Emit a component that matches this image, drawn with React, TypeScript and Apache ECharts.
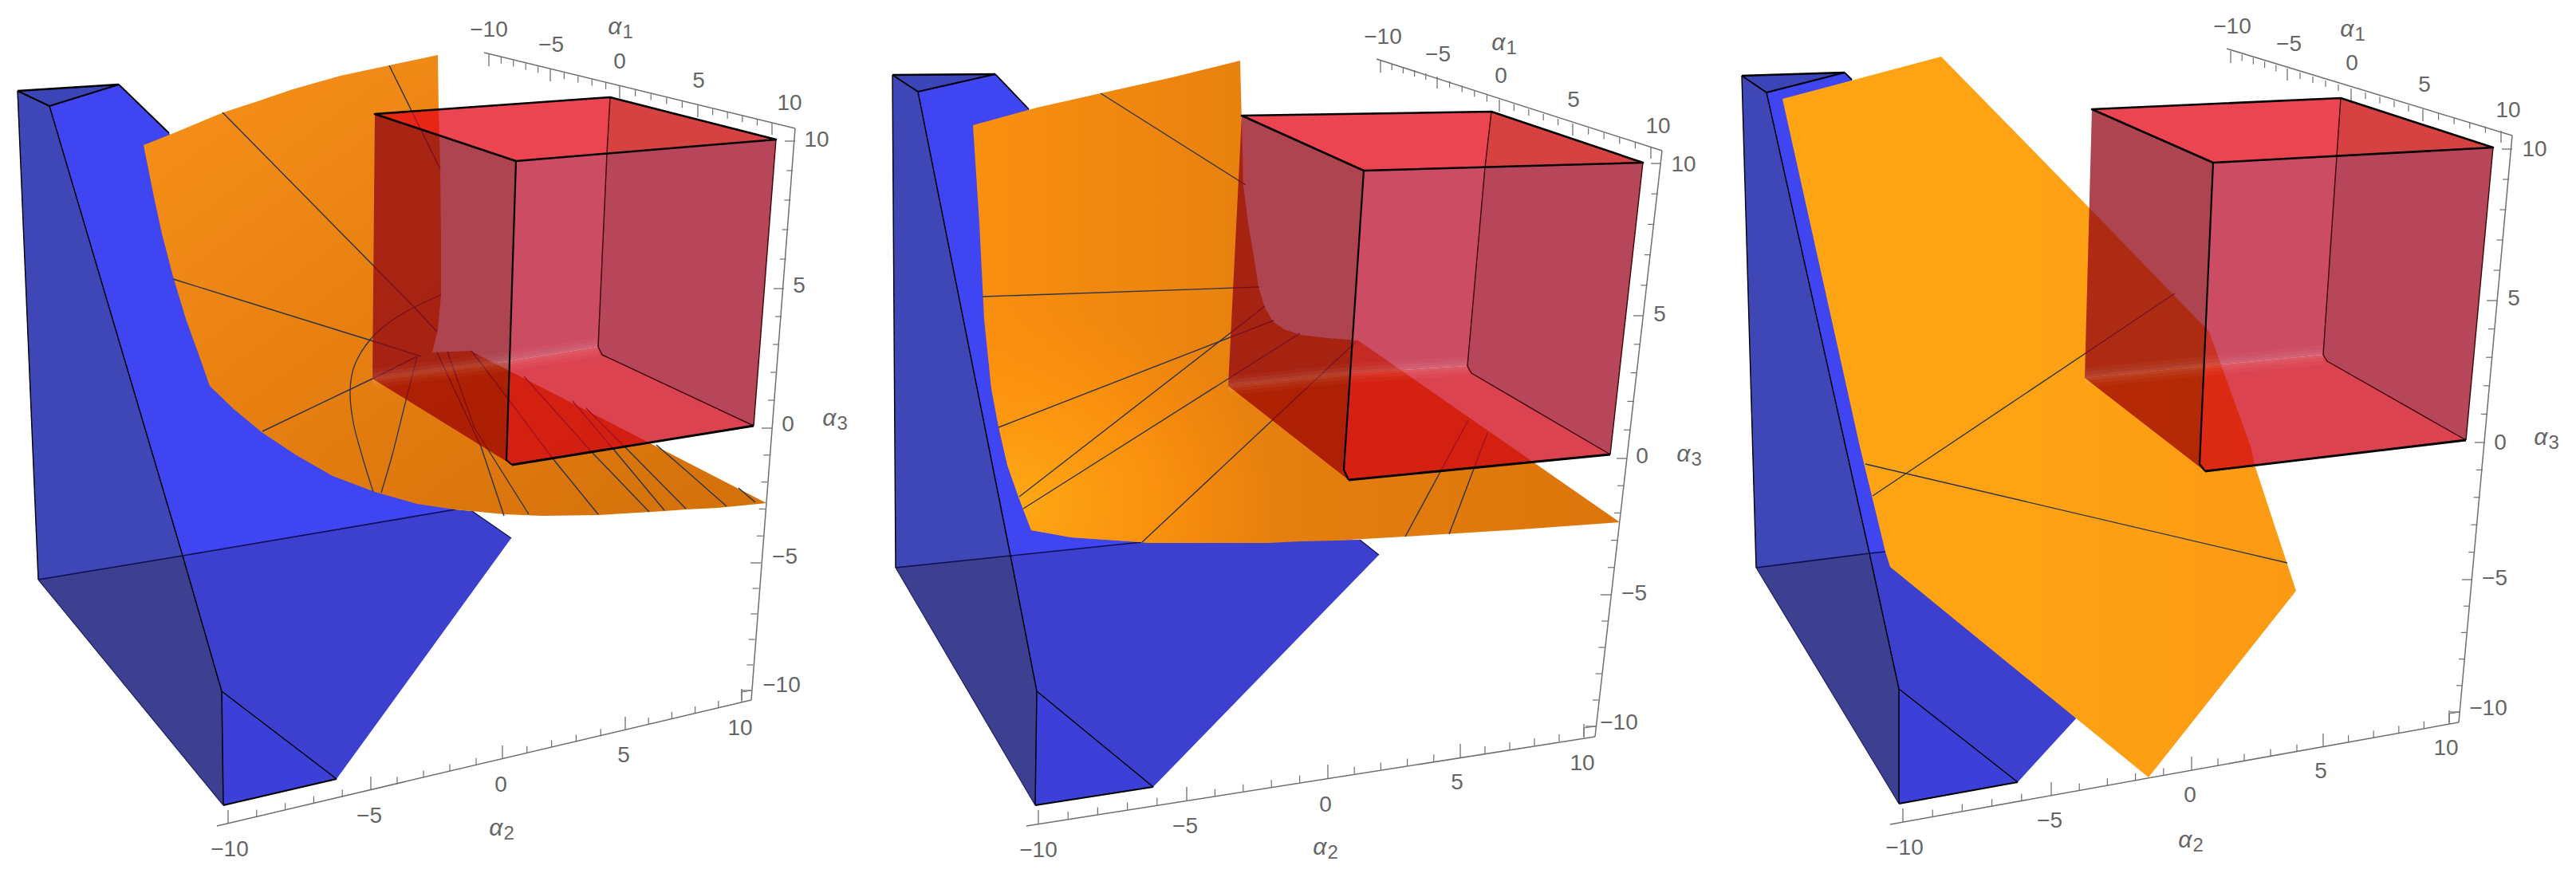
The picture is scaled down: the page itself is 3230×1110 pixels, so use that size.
import React, { useEffect, useRef } from "react";
import * as echarts from "echarts";

type Pt = number[];

// ---------- shared labels ----------
const tickLabels = ["\u221210", "\u22125", "0", "5", "10"];
const axisNames = ["1", "2", "3"];

// ---------- panel 1 ----------
// corners: A, B, C, leftBottom, bottom, F, D, E
const p1Blue: Pt[] = [[22,114],[149,106],[62,133],[48,727],[280,1010],[422,977],[229,697],[278,867]];
const p1BlueBright: Pt[] = [[212,167],[400,450],[571,639]];
const p1BlueFront: Pt[] = [[571,639],[592,641],[641,675]];
const p1Orange: Pt[] = [[180,182],[220,166],[280,141],[320,128],[367,112],[427,95],[488,82],[549,69],[550,137],[552,210],[553,300],[553,370],[549,414],[542,442],[590,440],[961,631],[900,637],[860,639],[833,641],[750,646],[680,647],[632,645],[570,639],[523,632],[470,617],[417,597],[370,570],[328,542],[293,513],[263,484],[250,447],[233,400],[217,347],[203,293],[193,247]];
const p1Lines: Pt[][] = [
  [[488,82],[552,212]],
  [[279,141],[468,333],[520,386],[548,416]],
  [[217,350],[465,427],[528,447]],
  [[329,541],[467,475],[523,447]],
  [[548,442],[603,560],[632,647]],
  [[561,441],[595,537],[663,645]],
  [[591,440],[637,500],[693,575],[750,645]],
  [[657,472],[742,567],[814,642]],
  [[718,503],[768,562],[833,640]],
  [[735,512],[783,560],[860,638]],
  [[823,558],[860,590],[911,635]],
  [[926,612],[947,630]],
];
const p1Curves: Pt[][] = [
  [[553,370],[520,385],[490,403],[465,425],[445,457],[439,490],[443,530],[455,575],[468,617]],
  [[523,447],[507,510],[492,570],[478,618]],
];
// corners: TL, TB, TR, TF, BL, BK, RB, FB, X, SF, FC, K
const p1Box: Pt[] = [[470,143],[765,122],[973,175],[647,202],[467,475],[755,445],[945,534],[642,583],[761,193],[638,453],[635,577],[750,435]];
const p1AxisA1: Pt[] = [[607,66],[997,161]];
const p1TicksA1: Pt[] = [[613,68],[690,87],[777,108],[875,132],[968,154]];
const p1LabelsA1: Pt[] = [[613,36],[691,55],[777,76],[876,100],[990,128]];
const p1AxisA2: Pt[] = [[272,1036],[942,878]];
const p1TicksA2: Pt[] = [[286,1033],[465,991],[630,952],[784,916],[930,881]];
const p1LabelsA2: Pt[] = [[288,1064],[463,1022],[628,983],[782,946],[928,912]];
const p1AxisA3: Pt[] = [[997,161],[942,878]];
const p1TicksA3: Pt[] = [[997,177],[983,362],[968,537],[954,706],[942,866]];
const p1LabelsA3: Pt[] = [[1024,174],[1002,357],[988,531],[984,697],[980,858]];
const p1Names: Pt[] = [[778,32],[629,1037],[1047,523]];

// ---------- panel 2 ----------
const p2Blue: Pt[] = [[1119,94],[1248,93],[1151,115],[1123,712],[1298,1010],[1446,987],[1267,697],[1300,867]];
const p2BlueBright: Pt[] = [[1290,137],[1340,400],[1431,680]];
const p2BlueFront: Pt[] = [[1431,680],[1705,677],[1729,696]];
const p2Orange: Pt[] = [[1220,157],[1300,135],[1380,117],[1470,97],[1555,76],[1559,232],[1565,280],[1572,321],[1578,360],[1586,386],[1596,403],[1610,413],[1631,420],[1665,424],[1703,427],[2031,655],[1907,664],[1762,673],[1675,678],[1630,679],[1590,681],[1440,681],[1430,680],[1343,674],[1293,665],[1277,623],[1263,583],[1252,535],[1243,487],[1234,400],[1228,280]];
const p2Lines: Pt[][] = [
  [[1380,117],[1562,232]],
  [[1232,372],[1579,360]],
  [[1252,536],[1597,402]],
  [[1278,623],[1586,384]],
  [[1283,638],[1630,418]],
  [[1432,680],[1700,429]],
  [[1841,527],[1762,673]],
  [[1865,543],[1817,670]],
];
const p2Curves: Pt[][] = [];
const p2Box: Pt[] = [[1557,145],[1870,140],[2060,204],[1710,214],[1540,484],[1845,468],[2019,570],[1691,602],[1862,210],[1693,468],[1685,589],[1840,459]];
const p2AxisA1: Pt[] = [[1726,74],[2084,189]];
const p2TicksA1: Pt[] = [[1731,76],[1802,96],[1880,125],[1972,155],[2070,184]];
const p2LabelsA1: Pt[] = [[1734,45],[1803,67],[1882,94],[1973,124],[2079,157]];
const p2AxisA2: Pt[] = [[1287,1036],[2000,924]];
const p2TicksA2: Pt[] = [[1302,1033],[1488,1004],[1665,976],[1831,950],[1986,925]];
const p2LabelsA2: Pt[] = [[1302,1065],[1486,1035],[1662,1008],[1827,980],[1984,956]];
const p2AxisA3: Pt[] = [[2084,189],[2000,924]];
const p2TicksA3: Pt[] = [[2083,205],[2061,396],[2040,575],[2020,746],[2001,911]];
const p2LabelsA3: Pt[] = [[2111,205],[2081,393],[2059,571],[2049,743],[2030,905]];
const p2Names: Pt[] = [[1886,52],[1662,1061],[2118,568]];

// ---------- panel 3 ----------
const p3Blue: Pt[] = [[2184,95],[2313,91],[2215,116],[2202,712],[2381,1008],[2530,981],[2344,694],[2381,864]];
const p3BlueBright: Pt[] = [[2322,100],[2400,300],[2364,692]];
const p3BlueFront: Pt[] = [[2364,692],[2600,800],[2650,850]];
const p3Orange: Pt[] = [[2235,124],[2434,71],[2618,259],[2770,416],[2822,560],[2828,586],[2879,741],[2694,975],[2370,711],[2364,692],[2332,560]];
const p3Lines: Pt[][] = [
  [[2727,368],[2348,622]],
  [[2339,582],[2868,706]],
];
const p3Curves: Pt[][] = [];
const p3Box: Pt[] = [[2623,137],[2935,123],[3126,185],[2775,204],[2614,474],[2918,453],[3092,552],[2765,591],[2930,196],[2765,459],[2758,582],[2913,445]];
const p3AxisA1: Pt[] = [[2792,61],[3150,170]];
const p3TicksA1: Pt[] = [[2797,64],[2868,86],[2948,111],[3038,137],[3136,164]];
const p3LabelsA1: Pt[] = [[2799,32],[2870,54],[2949,78],[3040,105],[3145,137]];
const p3AxisA2: Pt[] = [[2370,1034],[3083,906]];
const p3TicksA2: Pt[] = [[2386,1031],[2572,998],[2748,966],[2913,937],[3071,908]];
const p3LabelsA2: Pt[] = [[2388,1062],[2570,1028],[2746,996],[2910,966],[3067,937]];
const p3AxisA3: Pt[] = [[3150,170],[3083,906]];
const p3TicksA3: Pt[] = [[3150,187],[3131,377],[3116,555],[3100,727],[3085,893]];
const p3LabelsA3: Pt[] = [[3178,186],[3152,373],[3135,554],[3128,724],[3120,887]];
const p3Names: Pt[] = [[2950,35],[2747,1052],[3193,547]];

// ---------- styles ----------
const BLACK = "#000000";
const GREY = "#6f6f6f";
const TEXT = "#666666";
const LINE = "#2c3447";
const FONT = "Liberation Sans";

const lin = (x0: number, y0: number, x1: number, y1: number, c: string[]) =>
  new echarts.graphic.LinearGradient(x0, y0, x1, y1, c.map((color, i) => ({ offset: i / (c.length - 1), color })));

const orangeFills = [
  [lin(0, 0, 1, 1, ["#F8921A", "#E67E10", "#D2700A"])],
  [
    lin(0, 0, 1, 0, ["#FA9010", "#E47E0E", "#DC760C"]),
    new echarts.graphic.RadialGradient(0.05, 0.92, 0.42, [
      { offset: 0, color: "rgba(255,172,22,0.95)" },
      { offset: 0.55, color: "rgba(255,150,14,0.7)" },
      { offset: 1, color: "rgba(255,140,10,0)" },
    ]),
  ],
  [lin(0, 0, 1, 0, ["#FFA514", "#FFA214", "#FB9A14"])],
];

type Item = { kind: "polygon" | "polyline"; pts: Pt[]; style: any; smooth?: number };

function shapes(name: string, items: Item[]) {
  return {
    type: "custom",
    name,
    coordinateSystem: "cartesian2d",
    clip: false,
    silent: true,
    data: items.map((it, i) => [it.pts[0][0], it.pts[0][1], i]),
    renderItem: (params: any, api: any) => {
      const it = items[params.dataIndex];
      return {
        type: it.kind,
        transition: [],
        shape: { points: it.pts.map((p) => api.coord(p)), smooth: it.smooth || 0 },
        style: it.kind === "polyline" ? { fill: null, lineJoin: "round", ...it.style } : { lineJoin: "round", ...it.style },
      };
    },
  };
}

function texts(name: string, items: { at: Pt; text: string; rich?: any }[]) {
  return {
    type: "custom",
    name,
    coordinateSystem: "cartesian2d",
    clip: false,
    silent: true,
    data: items.map((it, i) => [it.at[0], it.at[1], i]),
    renderItem: (params: any, api: any) => {
      const it = items[params.dataIndex];
      const c = api.coord(it.at);
      return {
        type: "text",
        x: c[0],
        y: c[1],
        style: {
          text: it.text,
          rich: it.rich,
          fill: TEXT,
          fontSize: 28,
          fontFamily: FONT,
          align: "center",
          verticalAlign: "middle",
        },
      };
    },
  };
}

const poly = (pts: Pt[], fill: any, stroke?: string, lineWidth = 0): Item => ({
  kind: "polygon",
  pts,
  style: { fill, stroke: stroke || null, lineWidth },
});
const wire = (pts: Pt[], stroke: string, lineWidth: number, smooth = 0): Item => ({
  kind: "polyline",
  pts,
  style: { stroke, lineWidth },
  smooth,
});

function axisItems(axis: Pt[], majors: Pt[], dir: Pt, majorLen: number, minorLen: number): Item[] {
  const out: Item[] = [wire(axis, GREY, 1.5)];
  majors.forEach((m, i) => {
    out.push(wire([m, [m[0] + dir[0] * majorLen, m[1] + dir[1] * majorLen]], GREY, 1.3));
    if (i < majors.length - 1) {
      const n = majors[i + 1];
      for (let k = 1; k < 5; k++) {
        const b = [m[0] + ((n[0] - m[0]) * k) / 5, m[1] + ((n[1] - m[1]) * k) / 5];
        out.push(wire([b, [b[0] + dir[0] * minorLen, b[1] + dir[1] * minorLen]], GREY, 1.2));
      }
    }
  });
  return out;
}

function panel(
  id: number,
  blue: Pt[], bright: Pt[], front: Pt[], orange: Pt[], lines: Pt[][], curves: Pt[][], box: Pt[],
  a1: Pt[], t1: Pt[], l1: Pt[], a2: Pt[], t2: Pt[], l2: Pt[], a3: Pt[], t3: Pt[], l3: Pt[], names: Pt[],
) {
  const [A, B, C, LB, BT, F, D, E] = blue;
  const [TL, TB, TR, TF, BL, BK, RB, FB, X, SF, FC, K] = box;
  const series: any[] = [];

  series.push(shapes(`axes${id}`, [
    ...axisItems(a1, t1, [0, 1], 15, 8),
    ...axisItems(a2, t2, [0, -1], 17, 9),
    ...axisItems(a3, t3, [-1, 0], 13, 8),
    wire([[t2[4][0], a2[1][1]], [t2[4][0], t3[4][1] + 2], t3[4]], GREY, 1.2),
  ]));

  series.push(shapes(`blueFaces${id}`, [
    poly([A, C, D, LB], "#3F47B6"),
    poly([C, B, ...bright, D], "#3F45F0"),
    poly([D, ...front, F, E], "#3D40CF"),
    poly([LB, D, E, BT], "#3D3F91"),
    poly([E, F, BT], "#3D40D8"),
    poly([A, B, C], "#3C45B8"),
  ]));
  series.push(shapes(`blueEdges${id}`, [
    wire([B, A], BLACK, 2.6),
    wire([A, C, B], BLACK, 2),
    wire([A, LB], BLACK, 1.4),
    wire([B, bright[0]], BLACK, 1.8),
    wire([C, D, E, BT], BLACK, 1.5),
    wire([E, F], BLACK, 1.5),
    wire([BT, F], BLACK, 2.2),
    wire([LB, D, front[0]], "#0c0f50", 1.6),
    wire([LB, BT], "#1d1f60", 1.2),
    wire([front[1], front[2]], "#0c0f50", 1.2),
  ]));

  const fills = orangeFills[id - 1];
  series.push(shapes(`orange${id}`, fills.map((f) => poly(orange, f))));
  series.push(shapes(`orangeLines${id}`, [
    ...lines.map((l) => wire(l, LINE, 1.4)),
    ...curves.map((c) => wire(c, LINE, 1.3, 0.35)),
  ]));

  series.push(shapes(`boxFaces${id}`, [
    poly([TL, TB, X, TF], "rgba(230,4,22,0.74)"),
    poly([TB, TR, X], "rgba(200,0,0,0.74)"),
    poly([TL, TF, SF, BL], "rgba(144,3,19,0.74)"),
    poly([TF, X, K, SF], "rgba(186,13,45,0.74)"),
    poly([X, TR, RB, BK, K], "rgba(159,5,32,0.74)"),
    poly([BL, SF, FC, FB], "rgba(155,0,0,0.74)"),
    poly([SF, K, BK, RB, FB, FC], "rgba(208,1,19,0.74)"),
  ]));
  series.push(shapes(`boxSeam${id}`, [
    wire([BL, SF, K], "rgba(255,255,255,0.035)", 24),
    wire([BL, SF, K], "rgba(255,255,255,0.045)", 15),
    wire([BL, SF, K], "rgba(255,255,255,0.055)", 7),
  ]));
  series.push(shapes(`boxEdges${id}`, [
    wire([TB, X, K, BK, RB], "#3a0508", 1.4),
    wire([TR, RB], "#3a0508", 1.4),
    wire([TF, FC, FB], BLACK, 2.2),
    wire([FB, RB], BLACK, 2.8),
    wire([TF, TL, TB, TR, TF], BLACK, 2.6),
  ]));

  const sub = {
    a: { fontStyle: "italic", fontSize: 30, fontFamily: FONT, fill: TEXT },
    b: { fontSize: 24, fontFamily: FONT, fill: TEXT, padding: [14, 0, 0, 1] },
  };
  series.push(texts(`labels${id}`, [
    ...l1.map((at, i) => ({ at, text: tickLabels[i] })),
    ...l2.map((at, i) => ({ at, text: tickLabels[i] })),
    ...l3.map((at, i) => ({ at, text: tickLabels[4 - i] })),
    ...names.map((at, i) => ({ at, text: `{a|\u03b1}{b|${axisNames[i]}}`, rich: sub })),
  ]));
  return series;
}

export default function App() {
  const ref = useRef<HTMLDivElement>(null);
  useEffect(() => {
    document.body.style.margin = "0";
    document.documentElement.style.overflow = "hidden";
    const chart = echarts.init(ref.current!, undefined, { renderer: "svg" });
    chart.setOption({
      animation: false,
      backgroundColor: "#ffffff",
      grid: { left: 0, right: 0, top: 0, bottom: 0 },
      xAxis: { type: "value", min: 0, max: 3230, show: false },
      yAxis: { type: "value", min: 0, max: 1110, inverse: true, show: false },
      series: [
        ...panel(1, p1Blue, p1BlueBright, p1BlueFront, p1Orange, p1Lines, p1Curves, p1Box, p1AxisA1, p1TicksA1, p1LabelsA1, p1AxisA2, p1TicksA2, p1LabelsA2, p1AxisA3, p1TicksA3, p1LabelsA3, p1Names),
        ...panel(2, p2Blue, p2BlueBright, p2BlueFront, p2Orange, p2Lines, p2Curves, p2Box, p2AxisA1, p2TicksA1, p2LabelsA1, p2AxisA2, p2TicksA2, p2LabelsA2, p2AxisA3, p2TicksA3, p2LabelsA3, p2Names),
        ...panel(3, p3Blue, p3BlueBright, p3BlueFront, p3Orange, p3Lines, p3Curves, p3Box, p3AxisA1, p3TicksA1, p3LabelsA1, p3AxisA2, p3TicksA2, p3LabelsA2, p3AxisA3, p3TicksA3, p3LabelsA3, p3Names),
      ],
    });
    return () => chart.dispose();
  }, []);
  return <div ref={ref} style={{ width: 3230, height: 1110 }} />;
}
